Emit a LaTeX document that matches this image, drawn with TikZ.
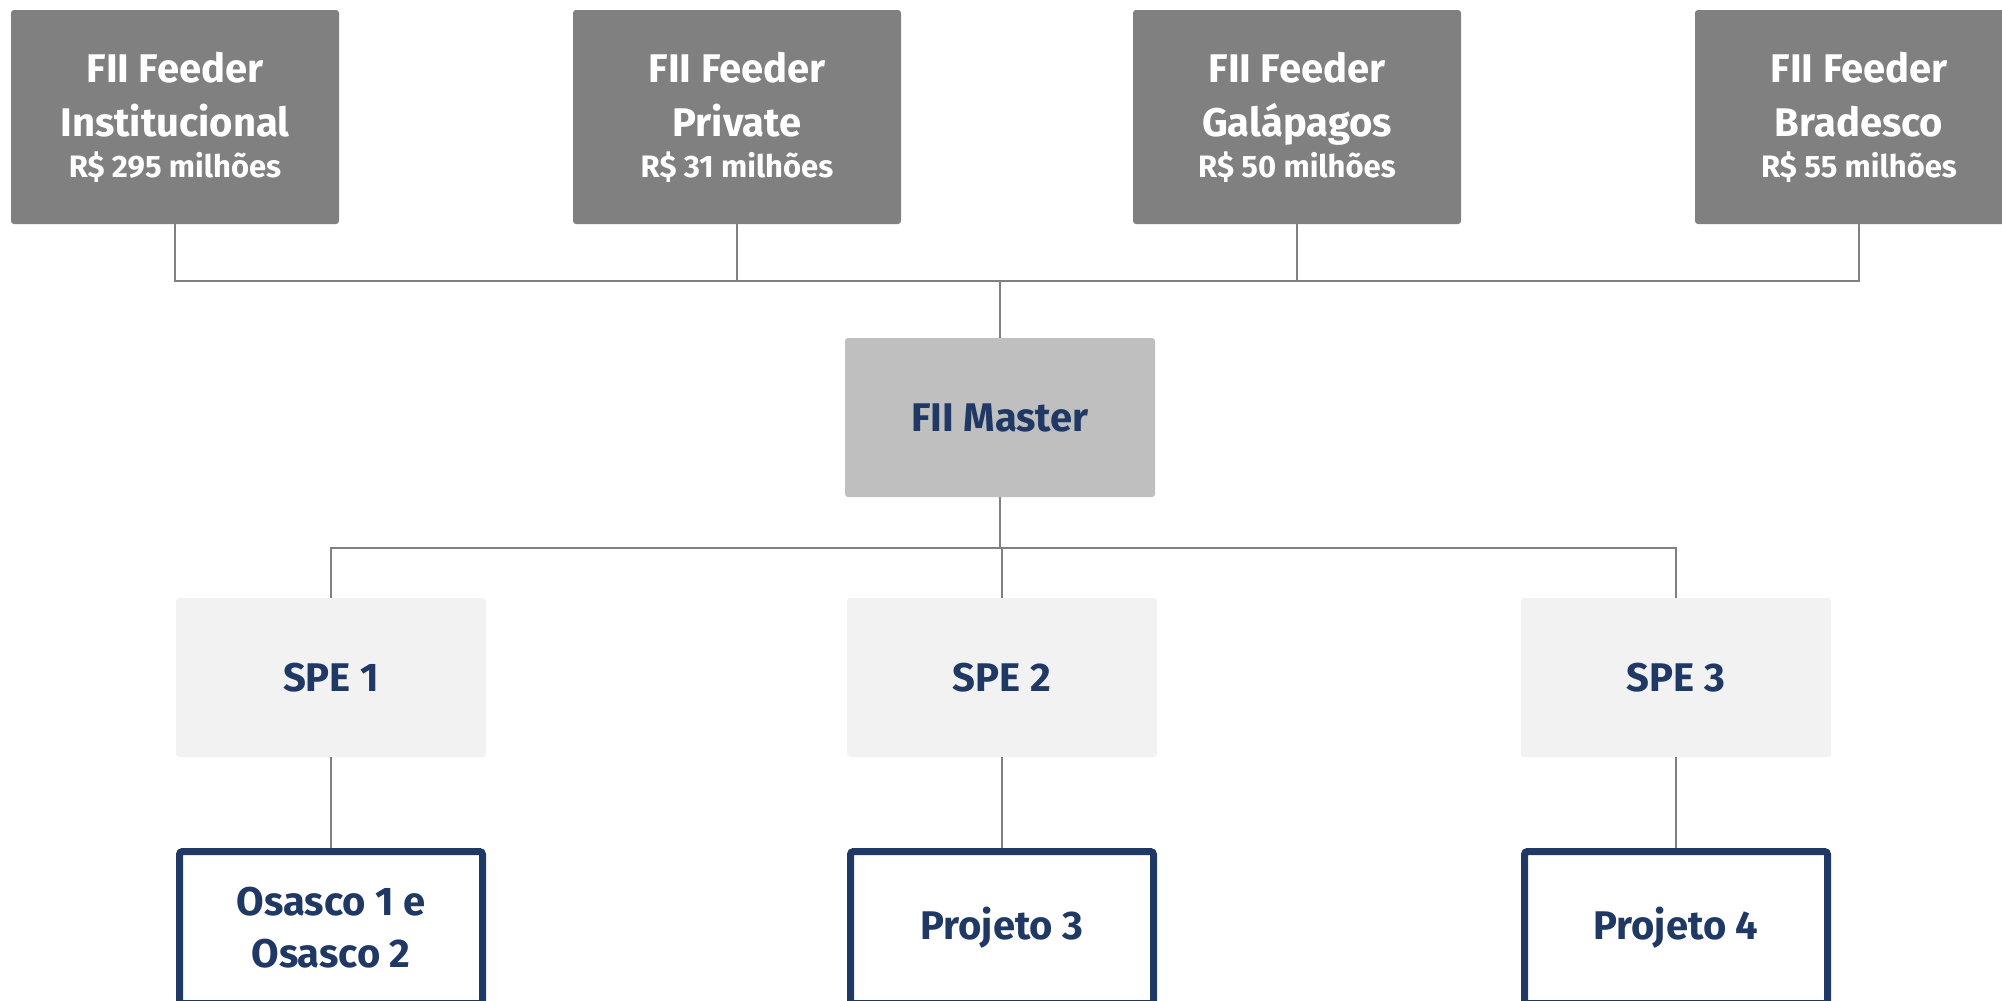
\documentclass[tikz,border=0pt]{standalone}
\usepackage{fontspec}
\setsansfont{Fira Sans}
\usepackage{color}
\usepackage{tikz}
\definecolor{feedergray}{HTML}{808080}
\definecolor{mastergray}{HTML}{BFBFBF}
\definecolor{spegray}{HTML}{F2F2F2}
\definecolor{navy}{HTML}{1F3864}
\newcommand{\amount}[1]{{\fontsize{15.5}{18}\selectfont #1}}

\begin{document}
\begin{tikzpicture}[x=0.5pt,y=-0.5pt,font=\sffamily\bfseries\fontsize{20}{27}\selectfont,
		feeder/.style={fill=feedergray, text=white, rounded corners=1.5pt, minimum width=164pt, minimum height=107pt, align=center, inner sep=0pt},
		master/.style={fill=mastergray, text=navy, rounded corners=1.5pt, minimum width=155pt, minimum height=79.5pt, inner sep=0pt},
		spe/.style={fill=spegray, text=navy, rounded corners=1.5pt, minimum width=155pt, minimum height=79.5pt, inner sep=0pt},
		project/.style={draw=navy, line width=3.5pt, fill=white, text=navy, rounded corners=1.5pt, minimum width=151.5pt, minimum height=76pt, align=center, inner sep=0pt},
		link/.style={draw=feedergray, line width=1pt}]
			\clip (0,0) rectangle (2002,1001);
			
			% feeders
			\node (inst) at (175,117)[feeder]{FII Feeder\\Institucional\\[-6.5pt]\amount{R\$ 295 milhões}};
			\node (priv) at (737,117)[feeder]{FII Feeder\\Private\\[-6.5pt]\amount{R\$ 31 milhões}};
			\node (gala) at (1297,117)[feeder]{FII Feeder\\Galápagos\\[-6.5pt]\amount{R\$ 50 milhões}};
			\node (brad) at (1859,117)[feeder]{FII Feeder\\Bradesco\\[-6.5pt]\amount{R\$ 55 milhões}};
			
			\node (master) at (1000,417.5)[master]{FII Master};
			
			% SPEs and projects
			\node (spe1) at (331,677.5)[spe]{SPE 1};
			\node (spe2) at (1002,677.5)[spe]{SPE 2};
			\node (spe3) at (1676,677.5)[spe]{SPE 3};
			
			\node (osasco) at (331,927.5)[project]{Osasco 1 e\\[-1pt]Osasco 2};
			\node (proj3) at (1002,927.5)[project]{Projeto 3};
			\node (proj4) at (1676,927.5)[project]{Projeto 4};
			
			\coordinate (topbus) at (1000,281);
			\coordinate (lowbus) at (1000,548);
			
			\draw[link] (inst.south) |- (topbus);
			\draw[link] (priv.south) |- (topbus);
			\draw[link] (gala.south) |- (topbus);
			\draw[link] (brad.south) |- (topbus);
			\draw[link] (topbus) -- (master.north);
			
			\draw[link] (master.south) -- (lowbus);
			\draw[link] (lowbus) -| (spe1.north);
			\draw[link] (lowbus) -| (spe2.north);
			\draw[link] (lowbus) -| (spe3.north);
			
			\draw[link] (spe1) -- (osasco);
			\draw[link] (spe2) -- (proj3);
			\draw[link] (spe3) -- (proj4);
		\end{tikzpicture}
\end{document}
